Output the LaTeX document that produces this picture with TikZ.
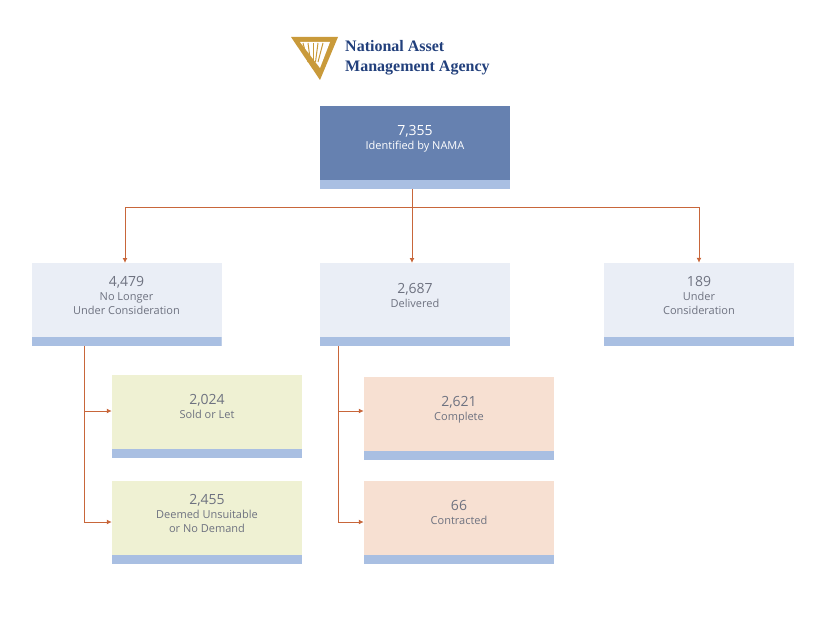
\documentclass[tikz,border=0pt]{standalone}
\usepackage{fontspec}
\setmainfont{Open Sans}
\newfontfamily\logofont{Liberation Serif}
\definecolor{topfill}{HTML}{6681B0}
\definecolor{barc}{HTML}{A9BFE2}
\definecolor{greyfill}{HTML}{EAEEF6}
\definecolor{greenfill}{HTML}{EFF1D3}
\definecolor{orangefill}{HTML}{F7E0D2}
\definecolor{linec}{HTML}{C8663A}
\definecolor{txt}{HTML}{6E7280}
\definecolor{navy}{HTML}{22407C}
\definecolor{gold}{HTML}{C99A3A}
\tikzset{
  x=1pt,y=-1pt,
  box/.style={minimum width=190pt,minimum height=83pt,inner sep=0pt,align=center,text=txt,font=\fontsize{11}{14}\selectfont,
    path picture={\fill[barc] ([yshift=9pt]path picture bounding box.south west) rectangle (path picture bounding box.south east);}},
  conn/.style={draw=linec,line width=1pt,-{Latex[length=5pt,width=5pt]}},
  plain/.style={draw=linec,line width=1pt}
}
\usetikzlibrary{arrows.meta}
\newcommand{\num}[1]{{\fontsize{14}{17}\selectfont #1}}
\begin{document}
\begin{tikzpicture}
\useasboundingbox (0,0) rectangle (830,626);
% logo
\fill[gold] (291,37) -- (338,37) -- (320,80) -- cycle;
\fill[white] (300,42) -- (330,42) -- (320,68) -- cycle;
\foreach \i in {0,...,4}{\draw[gold,line width=1pt] (303+5*\i,43) -- (308+2.5*\i,62);}
\node[anchor=west,text=navy,font=\logofont\bfseries\fontsize{16}{20}\selectfont,align=left,inner sep=0pt] (logo) at (345,58) {National Asset\\Management Agency};
% boxes
\node[box,fill=topfill,text=white] (top) at (415,147.5) {\num{7,355}\\Identified by NAMA\\[6pt]};
\node[box,fill=greyfill] (nl) at (126.5,304.5) {\num{4,479}\\No Longer\\Under Consideration\\[4pt]};
\node[box,fill=greyfill] (del) at (415,304.5) {\num{2,687}\\Delivered\\[4pt]};
\node[box,fill=greyfill] (uc) at (699,304.5) {\num{189}\\Under\\Consideration\\[4pt]};
\node[box,fill=greenfill] (sold) at (207,416.5) {\num{2,024}\\Sold or Let\\[6pt]};
\node[box,fill=greenfill] (uns) at (207,522.5) {\num{2,455}\\Deemed Unsuitable\\or No Demand\\[4pt]};
\node[box,fill=orangefill] (comp) at (459,418.5) {\num{2,621}\\Complete\\[6pt]};
\node[box,fill=orangefill] (contr) at (459,522.5) {\num{66}\\Contracted\\[6pt]};
% connectors
\coordinate (j) at (412,207);
\draw[plain] (top.south -| j) -- (j);
\draw[plain] (j) -- (125,207);
\draw[plain] (j) -- (699,207);
\draw[conn] (125,207) -- (125,263);
\draw[conn] (j) -- (412,263);
\draw[conn] (699,207) -- (uc.north);
\draw[plain] (84,346) -- (84,522);
\draw[conn] (84,411) -- (sold.west |- 0,411);
\draw[conn] (84,522) -- (uns.west |- 0,522);
\draw[plain] (338,346) -- (338,522);
\draw[conn] (338,411) -- (comp.west |- 0,411);
\draw[conn] (338,522) -- (contr.west |- 0,522);
\end{tikzpicture}
\end{document}
